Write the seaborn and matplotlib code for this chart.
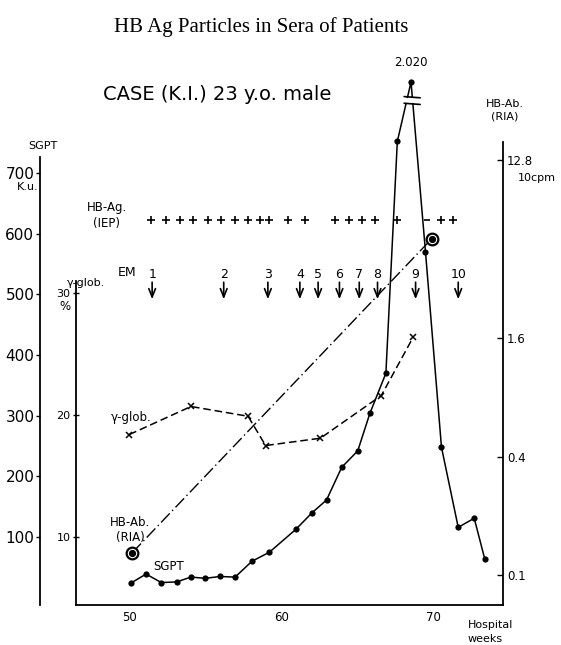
import matplotlib
matplotlib.use('Agg')
import matplotlib.pyplot as plt
import seaborn as sns
import pandas as pd

# SGPT (K.u.), weekly values; the peak is drawn above an axis break
sgpt_weeks = [50.1, 51.1, 52.1, 53.1, 54.05, 55.0, 55.95, 56.95, 58.05, 59.2,
              60.95, 62.0, 62.95, 63.95, 65.0, 65.8, 66.85, 67.6, 68.5, 69.45,
              70.5, 71.6, 72.65, 73.35]
sgpt_values = [24, 39, 25, 26, 34, 32, 35, 34, 60, 75,
               113, 140, 161, 215, 242, 304, 370, 752, 2020, 570,
               248, 116, 131, 63]
sgpt_peak_label = '2.020'

# gamma-globulin (%)
gglob_weeks = [50.0, 54.05, 57.8, 58.95, 62.55, 66.55, 68.65]
gglob_values = [18.4, 20.7, 19.9, 17.5, 18.1, 21.6, 26.4]

# HB-Ab (RIA), 10cpm, log scale
hbab_weeks = [50.2, 69.85]
hbab_values = [0.13, 5.1]

# HB-Ag (IEP): positive (+) and negative (-) weeks
hbag_pos_weeks = [51.45, 52.4, 53.35, 54.2, 55.15, 56.0, 56.95, 57.8, 58.6, 59.2,
                  60.45, 61.55, 63.5, 64.4, 65.25, 66.15, 67.55, 70.5, 71.25]
hbag_neg_weeks = [69.55]

# electron microscopy samples
em_labels = ['1', '2', '3', '4', '5', '6', '7', '8', '9', '10']
em_weeks = [51.5, 56.2, 59.1, 61.2, 62.4, 63.8, 65.1, 66.3, 68.8, 71.6]

sgpt_ticks = [100, 200, 300, 400, 500, 600, 700]
gglob_ticks = [10, 20, 30]
hbab_ticks = [0.1, 0.4, 1.6, 12.8]
week_ticks = [50, 60, 70]

# axis break for SGPT: values above the break are drawn at this level
BREAK_LIMIT = 900
BREAK_LEVEL = 850
sgpt_plot = [v if v < BREAK_LIMIT else BREAK_LEVEL for v in sgpt_values]

W, H = 561, 645


def px(x, y):
    return x / W, 1 - y / H


sns.set_theme(style='white')
plt.rcParams['font.family'] = ['DejaVu Sans']
ink = 'black'
plt.rcParams.update({'text.color': ink, 'axes.labelcolor': ink,
                     'xtick.color': ink, 'ytick.color': ink})

fig = plt.figure(figsize=(W / 100, H / 100), dpi=100)
ax = fig.add_axes([76 / W, 40 / H, 427 / W, 545 / H])
ax.patch.set_alpha(0)

lw = 1.1

# SGPT
sgpt_df = pd.DataFrame({'week': sgpt_weeks, 'sgpt': sgpt_plot})
sns.lineplot(data=sgpt_df, x='week', y='sgpt', ax=ax, color=ink, lw=lw,
             marker='o', markersize=4.5, markeredgewidth=0, sort=False,
             estimator=None)
ax.set_xlim(46.5, 74.54)
ax.set_ylim(-12, 886.3)

# axis break marks on the peak
ax.plot([68.05, 69.1], [820, 820], color='white', lw=3.5, solid_capstyle='butt')
ax.plot([68.05, 69.1], [826, 824], color=ink, lw=1.2)
ax.plot([68.05, 69.1], [815, 813], color=ink, lw=1.2)
peak_i = sgpt_values.index(max(sgpt_values))
ax.text(sgpt_weeks[peak_i], sgpt_plot[peak_i] + 22, sgpt_peak_label,
        ha='center', va='bottom', fontsize=8.5)

# HB-Ag row
ax.plot(hbag_pos_weeks, [623] * len(hbag_pos_weeks), ls='none', marker='+',
        ms=6, mew=1.2, color=ink)
ax.plot(hbag_neg_weeks, [623] * len(hbag_neg_weeks), ls='none', marker='_',
        ms=5, mew=1.2, color=ink)

# EM arrows
for lab, wk in zip(em_labels, em_weeks):
    ax.annotate('', xy=(wk, 492), xytext=(wk, 520),
                arrowprops=dict(arrowstyle='->,head_length=0.5,head_width=0.2',
                                color=ink, lw=1.2, shrinkA=0, shrinkB=0))
    ax.text(wk, 532, lab, ha='center', va='center', fontsize=9)

ax.set_xticks(week_ticks)
ax.set_xticklabels([str(t) for t in week_ticks], fontsize=8.5)
ax.set_yticks(sgpt_ticks)
ax.set_yticklabels([str(t) for t in sgpt_ticks], fontsize=8)
ax.set_xlabel('')
ax.set_ylabel('')
for s in ['top', 'right']:
    ax.spines[s].set_visible(False)
for s in ['left', 'bottom']:
    ax.spines[s].set_color(ink)
    ax.spines[s].set_linewidth(1.3)
ax.spines['left'].set_position(('outward', 26))
ax.spines['left'].set_bounds(-12, 726)
ax.tick_params(axis='y', direction='out', length=3, width=1, pad=1)
ax.tick_params(axis='x', direction='in', length=3, width=1, pad=4)

# gamma-globulin axis
ax_g = ax.twinx()
ax_g.patch.set_alpha(0)
gg_df = pd.DataFrame({'week': gglob_weeks, 'gglob': gglob_values})
sns.lineplot(data=gg_df, x='week', y='gglob', ax=ax_g, color=ink, lw=lw,
             marker='x', markersize=5, markeredgewidth=1.1, markeredgecolor=ink,
             sort=False, estimator=None, linestyle=(0, (5, 2.5)))
ax_g.set_ylim(4.43, 49.1)
ax_g.yaxis.tick_left()
ax_g.set_yticks(gglob_ticks)
ax_g.set_yticklabels([str(t) for t in gglob_ticks], fontsize=8)
ax_g.set_ylabel('')
for s in ['top', 'right', 'bottom']:
    ax_g.spines[s].set_visible(False)
ax_g.spines['left'].set_visible(True)
ax_g.spines['left'].set_color(ink)
ax_g.spines['left'].set_linewidth(1.3)
ax_g.spines['left'].set_bounds(4.43, 31)
ax_g.tick_params(axis='y', direction='inout', length=4, width=1, pad=2)

# HB-Ab axis (log)
ax_r = ax.twinx()
ax_r.patch.set_alpha(0)
ab_df = pd.DataFrame({'week': hbab_weeks, 'hbab': hbab_values})
sns.lineplot(data=ab_df, x='week', y='hbab', ax=ax_r, color=ink, lw=1.0,
             sort=False, estimator=None, linestyle=(0, (9, 2.5, 1, 2.5)))
ax_r.plot(hbab_weeks, hbab_values, ls='none', marker='o', ms=9,
          mfc=ink, mec=ink, zorder=5)
ax_r.plot(hbab_weeks, hbab_values, ls='none', marker='o', ms=6,
          mfc='none', mec='white', mew=0.8, zorder=6)
ax_r.set_yscale('log')
ax_r.set_ylim(0.0704, 41.4)
ax_r.set_yticks(hbab_ticks)
ax_r.set_yticklabels([str(t) for t in hbab_ticks], fontsize=8.5)
ax_r.minorticks_off()
ax_r.set_ylabel('')
for s in ['top', 'left', 'bottom']:
    ax_r.spines[s].set_visible(False)
ax_r.spines['right'].set_color(ink)
ax_r.spines['right'].set_linewidth(1.3)
ax_r.spines['right'].set_bounds(0.0704, 15.9)
ax_r.tick_params(axis='y', direction='in', length=4, width=1, pad=3)

# texts
fig.text(*px(261, 27), 'HB Ag Particles in Sera of Patients', ha='center',
         va='center', fontsize=15, family=['Liberation Serif'])
fig.text(*px(103, 94), 'CASE (K.I.) 23 y.o. male', ha='left', va='center',
         fontsize=14)
fig.text(*px(43, 146), 'SGPT', ha='center', va='center', fontsize=8)
fig.text(*px(28, 187), 'K.u.', ha='center', va='center', fontsize=8)
fig.text(*px(505, 110), 'HB-Ab.\n(RIA)', ha='center', va='center',
         fontsize=8, linespacing=1.3)
fig.text(*px(537, 178), '10cpm', ha='center', va='center', fontsize=8)
fig.text(*px(107, 216), 'HB-Ag.\n(IEP)', ha='center', va='center',
         fontsize=8.5, linespacing=1.3)
fig.text(*px(127, 273), 'EM', ha='center', va='center', fontsize=9)
fig.text(*px(86, 283), 'γ-glob.', ha='center', va='center', fontsize=8)
fig.text(*px(65, 307), '%', ha='center', va='center', fontsize=8.5)
fig.text(*px(131, 417), 'γ-glob.', ha='center', va='center', fontsize=8.5)
fig.text(*px(130, 530), 'HB-Ab.\n(RIA)', ha='center', va='center',
         fontsize=8.5, linespacing=1.3)
fig.text(*px(169, 567), 'SGPT', ha='center', va='center', fontsize=8.5)
fig.text(*px(468, 632), 'Hospital\nweeks', ha='left', va='center',
         fontsize=8, linespacing=1.4)

fig.savefig('out.png', dpi=100)
